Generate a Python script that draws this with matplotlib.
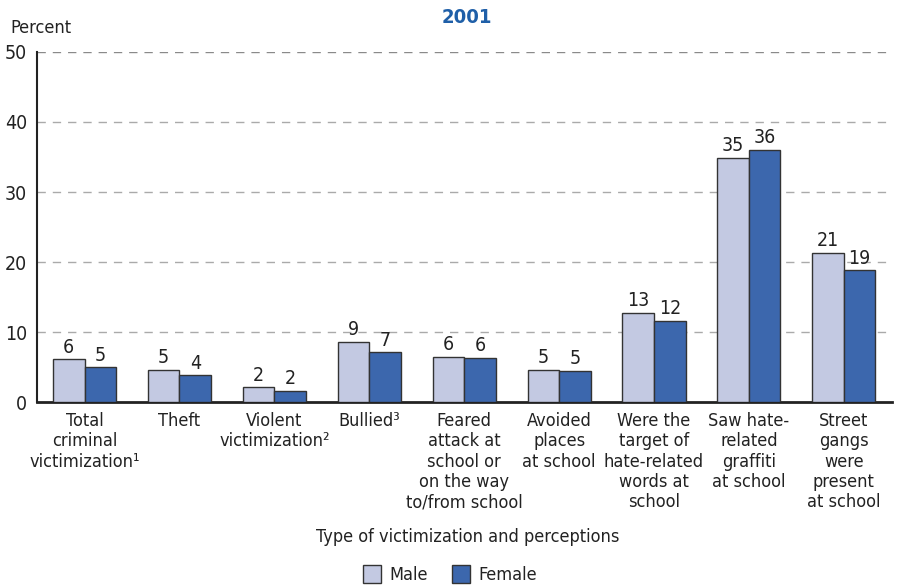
import numpy as np
import matplotlib
matplotlib.use("Agg")
import matplotlib.pyplot as plt
from matplotlib.patches import Rectangle

# narrow look, closest to the original condensed face
plt.rcParams['font.family'] = ['DejaVu Sans']
plt.rcParams['font.stretch'] = 'condensed'

categories = [
    "Total\ncriminal\nvictimization\u00b9",
    "Theft",
    "Violent\nvictimization\u00b2",
    "Bullied\u00b3",
    "Feared\nattack at\nschool or\non the way\nto/from school",
    "Avoided\nplaces\nat school",
    "Were the\ntarget of\nhate-related\nwords at\nschool",
    "Saw hate-\nrelated\ngraffiti\nat school",
    "Street\ngangs\nwere\npresent\nat school",
]
male = [6.1, 4.6, 2.1, 8.6, 6.4, 4.6, 12.7, 34.9, 21.3]
female = [4.95, 3.8, 1.6, 7.1, 6.3, 4.5, 11.6, 36.0, 18.8]
male_labels = ["6", "5", "2", "9", "6", "5", "13", "35", "21"]
female_labels = ["5", "4", "2", "7", "6", "5", "12", "36", "19"]
yticks = [0, 10, 20, 30, 40, 50]

male_color = "#C3C9E2"
female_color = "#3C67AD"
edge = "#333333"
txt = "#222222"

fig = plt.figure(figsize=(9.04, 5.87), dpi=100)
ax = fig.add_axes([0.041, 0.315, 0.946, 0.5965])

x = np.arange(len(categories))
w = 0.332
ax.bar(x - w / 2, male, w, color=male_color, edgecolor=edge, linewidth=1.0, zorder=3)
ax.bar(x + w / 2, female, w, color=female_color, edgecolor=edge, linewidth=1.0, zorder=3)

for xi, v, s in zip(x - w / 2, male, male_labels):
    ax.text(xi, v + 0.4, s, ha="center", va="bottom", fontsize=14, color=txt)
for xi, v, s in zip(x + w / 2, female, female_labels):
    ax.text(xi, v + 0.4, s, ha="center", va="bottom", fontsize=14, color=txt)

ax.set_xlim(-0.5, 8.51)
ax.set_ylim(0, 50)
ax.set_yticks(yticks)
ax.set_yticklabels([str(t) for t in yticks], fontsize=14, color=txt)
ax.tick_params(axis="y", length=0, pad=7)
for t in yticks[1:]:
    ax.axhline(t, color="#8a8a8a" if t == 50 else "#aaaaaa", linestyle=(0, (6, 5)),
               linewidth=1.0, zorder=1)

ax.set_xticks(x)
ax.set_xticklabels(categories, fontsize=13, color=txt, linespacing=1.17, va="top")
ax.tick_params(axis="x", length=0, pad=7)

for s in ["top", "right"]:
    ax.spines[s].set_visible(False)
ax.spines["left"].set_linewidth(1.5)
ax.spines["bottom"].set_linewidth(2.0)
ax.spines["left"].set_color(txt)
ax.spines["bottom"].set_color(txt)

fig.text(0.011, 0.952, "Percent", fontsize=13, color=txt, ha="left", va="center")
fig.text(0.517, 0.970, "2001", fontsize=14.5, fontweight="bold", color="#1F5FA8",
         ha="center", va="center")
fig.text(0.517, 0.085, "Type of victimization and perceptions", fontsize=13,
         color=txt, ha="center", va="center")

# legend
for bx, tx, col, lab in [(0.402, 0.431, male_color, "Male"),
                         (0.500, 0.529, female_color, "Female")]:
    fig.patches.append(Rectangle((bx, 0.007), 0.020, 0.030, transform=fig.transFigure,
                                 facecolor=col, edgecolor=edge, linewidth=1.0))
    fig.text(tx, 0.021, lab, fontsize=13, color=txt, ha="left", va="center")

fig.savefig("out.png", dpi=100)
